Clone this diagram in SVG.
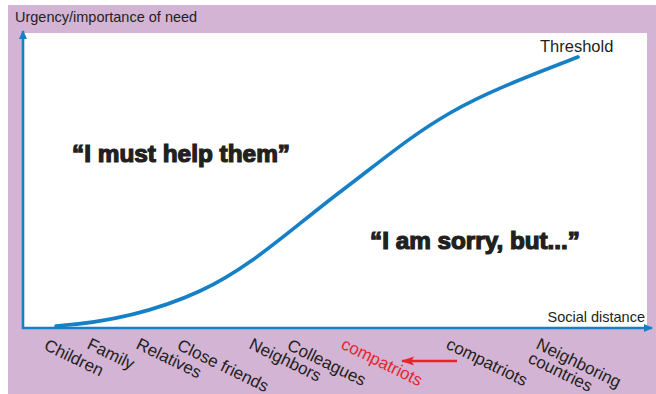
<svg xmlns="http://www.w3.org/2000/svg" width="656" height="394" viewBox="0 0 656 394">
  <style>
    .lbl { font-family: "Liberation Sans", Arial, sans-serif; fill: #231f20; }
    .cat { font-size: 17px; }
    .quote { font-family: "Liberation Sans", Arial, sans-serif; font-weight: bold; font-size: 23px; fill: #231f20; stroke: #231f20; stroke-width: 1.2; }
    .axis { stroke: #1680c6; stroke-width: 2.6; fill: none; }
    .curve { stroke: #1680c6; stroke-width: 3.6; fill: none; stroke-linecap: round; }
  </style>
  <defs>
    <marker id="axisHead" markerWidth="10" markerHeight="10" refX="8" refY="4" orient="auto" markerUnits="userSpaceOnUse">
      <path d="M0,0 L9,4 L0,8 Z" fill="#1680c6"/>
    </marker>
    <marker id="redHead" markerWidth="14" markerHeight="10" refX="12" refY="5" orient="auto" markerUnits="userSpaceOnUse">
      <path d="M0,0.5 L13,5 L0,9.5 L2.5,5 Z" fill="#e8252c"/>
    </marker>
  </defs>

  <!-- background panel and plot area -->
  <rect x="8" y="5" width="648" height="389" fill="#d3b4d4"/>
  <rect x="23" y="33" width="624" height="295" fill="#ffffff"/>

  <!-- axes, threshold curve and shift arrow -->
  <g id="connectors">
    <line class="axis" x1="23" y1="329" x2="23" y2="31" marker-end="url(#axisHead)"/>
    <line class="axis" x1="22" y1="328" x2="652" y2="328" marker-end="url(#axisHead)"/>
    <path class="curve" d="M56,326 C100,323 150,314 200,291 C250,268 290,230 340,192 C380,162 410,136 450,113 C490,90 540,72 578,57"/>
    <line x1="457" y1="361" x2="402" y2="361" stroke="#e8252c" stroke-width="2.4" marker-end="url(#redHead)"/>
  </g>

  <!-- axis titles -->
  <g id="y-axis-title"><text class="lbl" x="15" y="22" font-size="14.5">Urgency/importance of need</text></g>
  <g id="x-axis-title"><text class="lbl" x="645" y="322" font-size="14.5" text-anchor="end">Social distance</text></g>
  <g id="threshold"><text class="lbl" x="540" y="52" font-size="16.5">Threshold</text></g>

  <!-- region statements -->
  <g id="must-help"><text class="quote" x="72" y="162" textLength="218" lengthAdjust="spacingAndGlyphs">“I must help them”</text></g>
  <g id="sorry"><text class="quote" x="370" y="249" textLength="210" lengthAdjust="spacingAndGlyphs">“I am sorry, but...”</text></g>

  <!-- social distance categories -->
  <g id="children"><text class="lbl cat" transform="translate(43,349) rotate(26)">Children</text></g>
  <g id="family"><text class="lbl cat" transform="translate(86,348) rotate(26)">Family</text></g>
  <g id="relatives"><text class="lbl cat" transform="translate(135,348) rotate(26)">Relatives</text></g>
  <g id="close-friends"><text class="lbl cat" transform="translate(176,349) rotate(26)">Close friends</text></g>
  <g id="neighbors"><text class="lbl cat" transform="translate(248,348) rotate(26)">Neighbors</text></g>
  <g id="colleagues"><text class="lbl cat" transform="translate(286,349) rotate(26)">Colleagues</text></g>
  <g id="compatriots-new"><text class="lbl cat" style="fill:#e8252c" transform="translate(340,348) rotate(26)">compatriots</text></g>
  <g id="compatriots"><text class="lbl cat" transform="translate(445,348) rotate(26)">compatriots</text></g>
  <g id="neighboring-countries">
    <text class="lbl cat" transform="translate(535,348) rotate(26)">Neighboring</text>
    <text class="lbl cat" transform="translate(527,362) rotate(26)">countries</text>
  </g>
</svg>
